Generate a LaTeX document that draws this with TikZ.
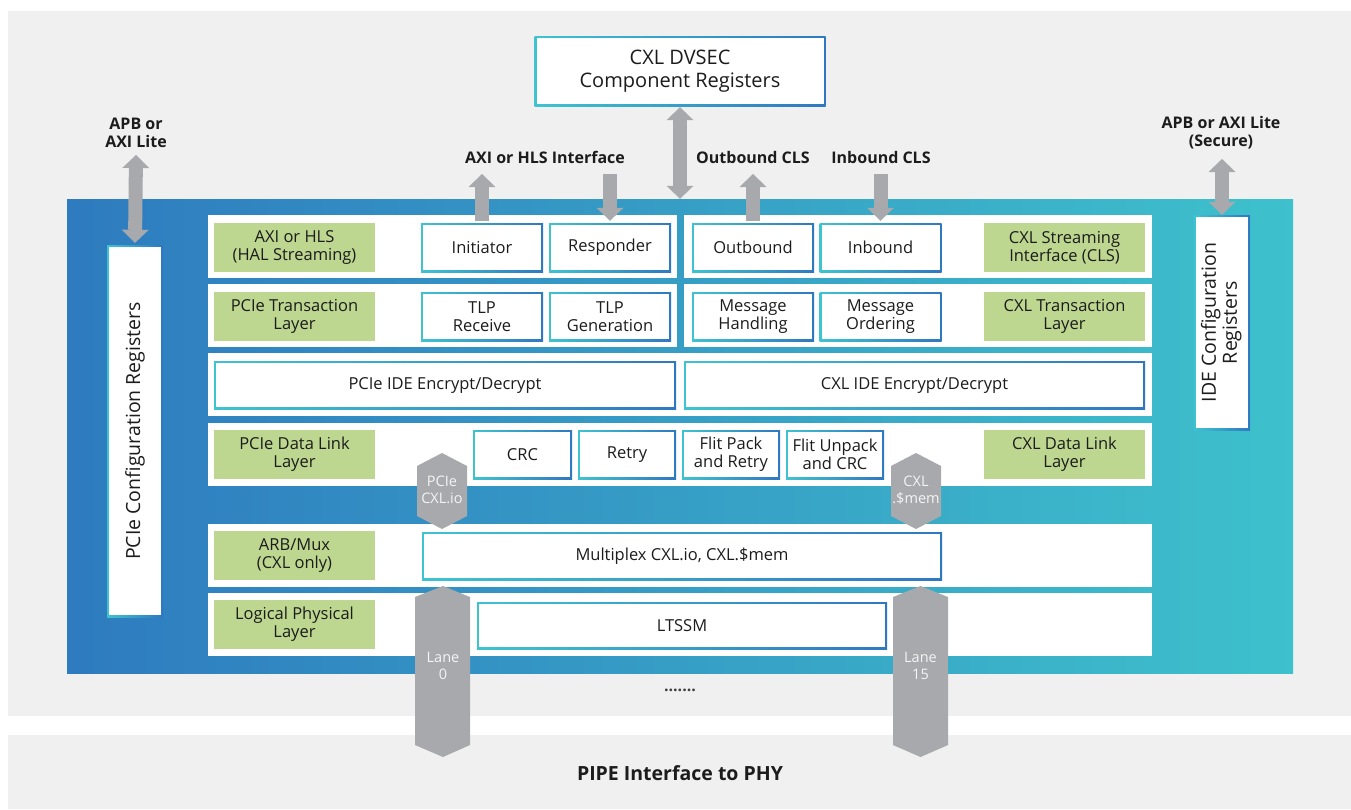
\documentclass[tikz,border=0pt]{standalone}
\usepackage{fontspec}
\setmainfont{Open Sans}
\usetikzlibrary{arrows.meta}

\definecolor{pagegray}{HTML}{F0F0F0}
\definecolor{coreL}{HTML}{2E7BBF}
\definecolor{coreR}{HTML}{3EC1CC}
\definecolor{labgreen}{HTML}{BDD690}
\definecolor{arrowgray}{HTML}{A7A9AC}
\definecolor{edgeL}{HTML}{3EC3D0}
\definecolor{edgeR}{HTML}{2F78C0}
\definecolor{ink}{HTML}{1C1C1C}
\definecolor{lanetext}{HTML}{F4F4F4}

\newcommand{\cellfont}{\fontsize{16.5}{18}\selectfont}
\newcommand{\tagfont}{\fontsize{16}{18}\selectfont\bfseries}

\tikzset{
  cell/.style={inner sep=0pt, align=center, font=\cellfont, text=ink, minimum height=49pt,
    path picture={
      \shade[left color=edgeL, right color=edgeR] (path picture bounding box.south west) rectangle (path picture bounding box.north east);
      \fill[white] ([shift={(2pt,2pt)}]path picture bounding box.south west) rectangle ([shift={(-2pt,-2pt)}]path picture bounding box.north east);
    }},
  greenbox/.style={fill=labgreen, inner sep=0pt, align=center, font=\cellfont, text=ink, minimum width=161pt, minimum height=49pt},
  toplabel/.style={inner sep=0pt, align=center, font=\tagfont, text=ink},
  lanetag/.style={inner sep=0pt, align=center, font=\fontsize{14.5}{16.5}\selectfont, text=lanetext},
  fat/.style={draw=arrowgray, line width=14pt, -{Triangle[width=27pt,length=13pt,line width=0pt]}},
  fatboth/.style={draw=arrowgray, line width=14pt, {Triangle[width=27pt,length=13pt,line width=0pt]}-{Triangle[width=27pt,length=13pt,line width=0pt]}},
}

\begin{document}
\begin{tikzpicture}[x=1pt,y=-1pt]
\useasboundingbox (0,0) rectangle (1351,809);
\fill [white] (0,0) rectangle (1351,809);
\fill [pagegray] (8,11) rectangle (1351,716);
\fill [pagegray] (8,735) rectangle (1351,809);

% core block
\node [inner sep=0pt, minimum width=1226pt, minimum height=474pt, left color=coreL, right color=coreR] (core) at (680,436) {};
\fill [white] (208,215) rectangle (677,278);
\fill [white] (684,215) rectangle (1152,278);
\fill [white] (208,284) rectangle (677,347);
\fill [white] (684,284) rectangle (1152,347);
\fill [white] (208,353) rectangle (1152,416);
\fill [white] (208,423) rectangle (1152,486);
\fill [white] (208,524) rectangle (1152,587);
\fill [white] (208,593) rectangle (1152,656);

% registers
\node [cell, minimum width=291pt, minimum height=70pt, font=\fontsize{20}{23}\selectfont] (dvsec) at (680,71) {CXL DVSEC\\Component Registers};
\node [cell, minimum width=56pt, minimum height=372pt, font=\fontsize{19.5}{23}\selectfont] (pcfg) at (135,431) {\rotatebox{90}{PCIe Configuration Registers}};
\node [cell, minimum width=56pt, minimum height=215pt, font=\fontsize{19.5}{21}\selectfont] (icfg) at (1222,322.5) {\rotatebox{90}{\begin{tabular}{@{}c@{}}IDE Configuration\\Registers\end{tabular}}};

% layer names
\node [greenbox] (axiG) at (294.5,247.5) {AXI or HLS\\(HAL Streaming)};
\node [greenbox] (ptlG) at (294.5,316.5) {PCIe Transaction\\Layer};
\node [greenbox] (pdlG) at (294.5,454.5) {PCIe Data Link\\Layer};
\node [greenbox] (arbG) at (294.5,555.5) {ARB/Mux\\(CXL only)};
\node [greenbox] (phyG) at (294.5,624.5) {Logical Physical\\Layer};
\node [greenbox] (clsG) at (1064.5,247.5) {CXL Streaming\\Interface (CLS)};
\node [greenbox] (ctlG) at (1064.5,316.5) {CXL Transaction\\Layer};
\node [greenbox] (cdlG) at (1064.5,454.5) {CXL Data Link\\Layer};

% blocks
\node [cell, minimum width=122pt] (init) at (482,247.5) {Initiator};
\node [cell, minimum width=122pt] (resp) at (610,247.5) {Responder};
\node [cell, minimum width=122pt] (ob) at (753,247.5) {Outbound};
\node [cell, minimum width=122pt] (ib) at (880.5,247.5) {Inbound};
\node [cell, minimum width=122pt] (tlpR) at (482,316.5) {TLP\\Receive};
\node [cell, minimum width=122pt] (tlpG) at (610,316.5) {TLP\\Generation};
\node [cell, minimum width=122pt] (msgH) at (753,316.5) {Message\\Handling};
\node [cell, minimum width=122pt] (msgO) at (880.5,316.5) {Message\\Ordering};
\node [cell, minimum width=462pt, minimum height=48pt] (pide) at (445,385) {PCIe IDE Encrypt/Decrypt};
\node [cell, minimum width=461pt, minimum height=48pt] (cide) at (914.5,385) {CXL IDE Encrypt/Decrypt};
\node [cell, minimum width=99pt] (crc) at (522.5,454.5) {CRC};
\node [cell, minimum width=98pt] (retry) at (627,454.5) {Retry};
\node [cell, minimum width=98pt] (fpack) at (731,454.5) {Flit Pack\\and Retry};
\node [cell, minimum width=98pt] (funpack) at (835,454.5) {Flit Unpack\\and CRC};
\node [cell, minimum width=520pt, minimum height=48pt] (mux) at (682,556) {Multiplex CXL.io, CXL.\$mem};
\node [cell, minimum width=410pt, minimum height=47pt] (ltssm) at (682,625.5) {LTSSM};

% lanes
\fill [arrowgray] (417,466) -- (442,453) -- (467,466) -- (467,516) -- (442,529) -- (417,516) -- cycle;
\fill [arrowgray] (891,466) -- (916,453) -- (941,466) -- (941,516) -- (916,529) -- (891,516) -- cycle;
\fill [arrowgray] (415,597) -- (443,586) -- (470,597) -- (470,745) -- (443,757) -- (415,745) -- cycle;
\fill [arrowgray] (893,597) -- (920.5,586) -- (948,597) -- (948,745) -- (920.5,757) -- (893,745) -- cycle;
\node [lanetag] (ioTag) at (442,490) {PCIe\\CXL.io};
\node [lanetag] (memTag) at (916,490) {CXL\\.\$mem};
\node [lanetag] (lane0) at (443,666) {Lane\\0};
\node [lanetag] (lane15) at (920.5,666) {Lane\\15};

% interfaces
\node [toplabel] (apbL) at (136,133) {APB or\\AXI Lite};
\node [toplabel] (axiL) at (545,157) {AXI or HLS Interface};
\node [toplabel] (obL) at (753,157) {Outbound CLS};
\node [toplabel] (ibL) at (881,157) {Inbound CLS};
\node [toplabel] (apbR) at (1221,133) {APB or AXI Lite\\(Secure)};
\node [toplabel, font=\fontsize{19.5}{22}\selectfont\bfseries] (pipe) at (680,773) {PIPE Interface to PHY};
\node [toplabel, font=\fontsize{16}{18}\selectfont\bfseries, text=black!75] (dots) at (680,690) {.......};

\coordinate (apbLend) at (136,155);
\coordinate (apbRend) at (1222,159);
\coordinate (initUp) at (482,174);
\coordinate (respIn) at (610,174);
\coordinate (obUp) at (753,174);
\coordinate (ibIn) at (880.5,174);

\draw [fatboth] (apbLend) -- ([yshift=2pt]pcfg.north);
\draw [fatboth] (apbRend) -- (icfg.north);
\draw [fatboth] ([yshift=-1pt]dvsec.south) -- (core.north);
\draw [fat] ([yshift=2pt]init.north) -- (initUp);
\draw [fat] (respIn) -- ([yshift=2pt]resp.north);
\draw [fat] ([yshift=2pt]ob.north) -- (obUp);
\draw [fat] (ibIn) -- ([yshift=2pt]ib.north);

\end{tikzpicture}
\end{document}
